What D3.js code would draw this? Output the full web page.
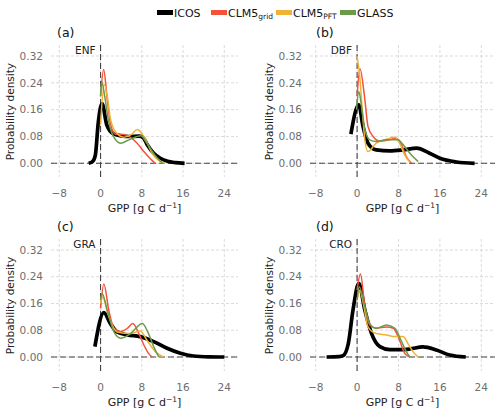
<!DOCTYPE html>
<html><head><meta charset="utf-8">
<script src="https://cdn.jsdelivr.net/npm/d3@7"></script>
<style>body{margin:0;background:#fff}svg{display:block}text{font-family:"DejaVu Sans",sans-serif}</style>
</head><body>
<svg id="c" width="500" height="413"></svg>
<script>
const panels = ["(a)", "(b)", "(c)", "(d)"];
const pfts = ["ENF", "DBF", "GRA", "CRO"];
const seriesNames = ["ICOS", "CLM5grid", "CLM5PFT", "GLASS"];
const colors = ["#000000", "#f4523a", "#f0b236", "#6b9a4a"];
const xTicks = [-8, 0, 8, 16, 24];
const yTicks = [0, 0.08, 0.16, 0.24, 0.32];

// [GPP, density] pairs per panel
const icos = [
  [[-2.3,0],[-1.5,0.006],[-1,0.025],[-0.45,0.12],[0.3,0.178],[1.2,0.115],[2.5,0.088],[4,0.082],[5.5,0.08],[7.5,0.081],[8.3,0.076],[9,0.057],[10.3,0.03],[11.6,0.015],[13,0.006],[14.5,0.002],[16.3,0]],
  [[-1.2,0.087],[0.3,0.174],[1.16,0.109],[2.1,0.06],[3.7,0.04],[6.3,0.037],[8.9,0.04],[11.5,0.045],[14,0.03],[16,0.015],[19.2,0.004],[22.7,0]],
  [[-1.1,0.031],[0.64,0.133],[1.9,0.1],[3.2,0.075],[5.2,0.066],[7.7,0.061],[10.3,0.046],[12.9,0.026],[15.5,0.011],[18,0.003],[21,0.0005],[24,0]],
  [[-5.9,0],[-3.5,0.001],[-2.7,0.004],[-1.7,0.04],[-0.8,0.14],[0.33,0.22],[1.5,0.14],[2.8,0.07],[4.4,0.031],[6.3,0.022],[8.5,0.022],[10.2,0.024],[12.7,0.03],[15.3,0.021],[17.9,0.006],[21,0]]
];
const clmGrid = [
  [[0,0.2],[0.6,0.28],[1.3,0.19],[1.9,0.12],[2.9,0.087],[4.5,0.086],[5.8,0.077],[7.1,0.06],[8.4,0.035],[9.7,0.013],[10.6,0]],
  [[0,0.2],[0.55,0.282],[1.5,0.19],[2.1,0.11],[3.1,0.08],[4.4,0.066],[6.3,0.07],[7.5,0.075],[8.6,0.055],[9.5,0.02],[10.5,0]],
  [[0,0.145],[0.64,0.218],[1.6,0.14],[2.6,0.086],[3.9,0.076],[5.2,0.086],[6.25,0.1],[7.4,0.071],[8.4,0.036],[9.3,0.011],[10,0]],
  [[0,0.2],[0.65,0.248],[1.5,0.15],[2.45,0.096],[3.7,0.086],[5.7,0.09],[7,0.086],[8.2,0.05],[9.2,0.011],[10.2,0]]
];
const clmPft = [
  [[0,0.115],[0.7,0.235],[1.3,0.2],[1.9,0.134],[2.9,0.094],[4.5,0.078],[6.1,0.087],[7.1,0.101],[8.5,0.078],[10,0.03],[11.5,0.006],[12.5,0]],
  [[0,0.32],[0.5,0.26],[1,0.16],[1.5,0.07],[2.1,0.035],[3.7,0.06],[5.7,0.072],[7.3,0.078],[8.2,0.06],[9.2,0.025],[10.2,0.003]],
  [[0,0.16],[0.4,0.18],[1.4,0.13],[2.4,0.09],[3.2,0.075],[5.8,0.07],[7.7,0.078],[9,0.05],[10.6,0.016],[12.2,0]],
  [[0,0.17],[0.5,0.2],[1.2,0.16],[2.1,0.09],[3.7,0.07],[5.7,0.066],[7.3,0.061],[8.9,0.061],[9.8,0.041],[10.8,0.016],[11.8,0]]
];
const glass = [
  [[0,0.2],[0.2,0.245],[0.8,0.2],[1.5,0.13],[2.5,0.08],[3.9,0.06],[5.5,0.07],[7.8,0.082],[9,0.06],[10.5,0.025],[12,0]],
  [[-0.1,0.16],[0.33,0.214],[0.85,0.17],[1.5,0.1],[2.45,0.07],[3.7,0.065],[5.7,0.07],[7.9,0.07],[8.9,0.055],[10.2,0.03],[11.8,0.005]],
  [[0,0.17],[0.3,0.19],[1.3,0.14],[2.6,0.075],[3.9,0.056],[5.8,0.07],[8.1,0.1],[9.3,0.07],[10.3,0.031],[11.3,0]],
  [[0,0.17],[0.4,0.21],[1.5,0.15],[2.45,0.1],[3.7,0.086],[5.7,0.096],[7.3,0.086],[8.6,0.046],[9.5,0.016],[10.2,0]]
];
const allSeries = [icos, clmGrid, clmPft, glass];

// layout
const layout = [
  {L:51, R:238, x0:59.3, x1:224.3, T:45, B:177, y0:163.3, y1:56},
  {L:310, R:495, x0:315.7, x1:481.3, T:45, B:177, y0:163.3, y1:56},
  {L:51, R:238, x0:59.3, x1:224.3, T:239, B:371, y0:357, y1:250},
  {L:310, R:495, x0:315.7, x1:481.3, T:239, B:371, y0:357, y1:250}
];

const svg = d3.select("#c");

panels.forEach((p, i) => {
  const lo = layout[i];
  const x = d3.scaleLinear().domain([-8, 24]).range([lo.x0, lo.x1]);
  const y = d3.scaleLinear().domain([0, 0.32]).range([lo.y0, lo.y1]);
  const g = svg.append("g");

  // grid
  g.selectAll(".vg").data(xTicks).join("line")
    .attr("x1", d => x(d)).attr("x2", d => x(d)).attr("y1", lo.T).attr("y2", lo.B)
    .attr("stroke", "#d2d2d2").attr("stroke-width", 0.8).attr("stroke-dasharray", "3,2");
  g.selectAll(".hg").data(yTicks).join("line")
    .attr("x1", lo.L).attr("x2", lo.R).attr("y1", d => y(d)).attr("y2", d => y(d))
    .attr("stroke", "#d2d2d2").attr("stroke-width", 0.8).attr("stroke-dasharray", "3,2");

  // zero lines
  g.append("line").attr("x1", x(0)).attr("x2", x(0)).attr("y1", lo.T).attr("y2", lo.B)
    .attr("stroke", "#444").attr("stroke-width", 1.1).attr("stroke-dasharray", "6,3");
  g.append("line").attr("x1", lo.L).attr("x2", lo.R).attr("y1", y(0)).attr("y2", y(0))
    .attr("stroke", "#444").attr("stroke-width", 1.1).attr("stroke-dasharray", "6,3");

  // tick labels
  g.selectAll(".xt").data(xTicks).join("text")
    .attr("x", d => x(d)).attr("y", lo.B + 20).attr("text-anchor", "middle")
    .attr("font-size", 10.5).attr("fill", "#6e6e6e")
    .text(d => d < 0 ? "\u2212" + Math.abs(d) : d);
  g.selectAll(".yt").data(yTicks).join("text")
    .attr("x", lo.L - 8).attr("y", d => y(d)).attr("dy", "0.35em").attr("text-anchor", "end")
    .attr("font-size", 10.5).attr("fill", "#6e6e6e")
    .text(d => d3.format(".2f")(d));

  // axis labels
  const xl = g.append("text").attr("x", (lo.L + lo.R) / 2).attr("y", lo.B + 35)
    .attr("text-anchor", "middle").attr("font-size", 11).attr("fill", "#222");
  xl.append("tspan").text("GPP [g C d");
  xl.append("tspan").attr("dy", -4).attr("font-size", 7.5).text("\u22121");
  xl.append("tspan").attr("dy", 4).text("]");
  const yc = (lo.y0 + lo.y1) / 2 + 2;
  g.append("text").attr("transform", `translate(${lo.L - 37},${yc}) rotate(-90)`)
    .attr("text-anchor", "middle").attr("font-size", 10.5).attr("fill", "#222")
    .text("Probability density");

  // titles
  g.append("text").attr("x", lo.L + 6).attr("y", lo.T - 8).attr("font-size", 12.5).attr("fill", "#111").text(p);
  g.append("text").attr("x", x(0) - 5).attr("y", lo.T + 5).attr("dy", "0.35em").attr("text-anchor", "end")
    .attr("font-size", 10.5).attr("fill", "#222").text(pfts[i]);

  // curves
  const line = d3.line().x(d => x(d[0])).y(d => y(d[1])).curve(d3.curveMonotoneX);
  allSeries.forEach((s, k) => {
    g.append("path").attr("d", line(s[i])).attr("fill", "none")
      .attr("stroke", colors[k]).attr("stroke-width", k === 0 ? 3.7 : 1.5)
      .attr("stroke-linejoin", "round");
  });
});

// legend
const legX = [157, 211, 276, 340];
const legend = svg.append("g");
seriesNames.forEach((n, k) => {
  legend.append("rect").attr("x", legX[k]).attr("y", 10).attr("width", 16).attr("height", 5).attr("fill", colors[k]);
  const t = legend.append("text").attr("x", legX[k] + 17).attr("y", 16.5).attr("font-size", 11).attr("fill", "#111");
  if (n.startsWith("CLM5")) {
    t.append("tspan").text("CLM5");
    t.append("tspan").attr("font-size", 7.5).attr("dy", 2).text(n.slice(4));
  } else {
    t.text(n);
  }
});
</script>
</body></html>
